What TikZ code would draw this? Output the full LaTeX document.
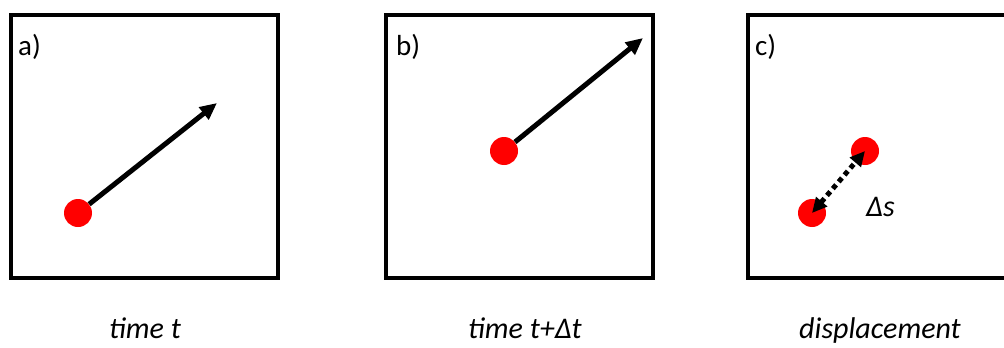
\documentclass[tikz,border=0pt]{standalone}
\usepackage{fontspec}
\setmainfont{Carlito}
\usetikzlibrary{arrows.meta, positioning}

\begin{document}
\begin{tikzpicture}[
    x=1pt, y=-1pt,
    panel/.style={rectangle, draw, line width=4pt, minimum width=267pt, minimum height=263pt, inner sep=0pt},
    dot/.style={circle, fill=red, minimum size=28pt, inner sep=0pt},
    tag/.style={font=\fontsize{29}{33}\selectfont, inner sep=0pt, anchor=base west},
    caption/.style={font=\fontsize{30}{34}\selectfont\itshape, inner sep=0pt},
    vec/.style={-{Triangle[length=17pt,width=15pt]}, line width=5pt}
]
    \useasboundingbox (0,0) rectangle (1004,348);

    % Panels
    \node[panel] (pa) at (144.5,146.5) {};
    \node[panel] (pb) at (519.5,146.5) {};
    \node[panel] (pc) at (881.5,146.5) {};

    \node[tag] (ta) at (18,55) {a)};
    \node[tag] (tb) at (396,55) {b)};
    \node[tag] (tc) at (755,55) {c)};

    % Velocity at time t
    \node[dot] (da) at (78,213) {};
    \coordinate (va) at (217,103);
    \draw[vec] (da) -- (va);

    % Velocity at time t+dt
    \node[dot] (db) at (504,151) {};
    \coordinate (vb) at (643,38);
    \draw[vec] (db) -- (vb);

    % Displacement
    \node[dot] (dc1) at (812,213) {};
    \node[dot] (dc2) at (865,151) {};
    \draw[line width=5pt, dash pattern=on 5pt off 4pt,
          {Triangle[length=15pt,width=14pt]}-{Triangle[length=15pt,width=14pt]}]
        (dc1.center) -- (dc2.center);
    \node[caption, anchor=base west, font=\fontsize{30}{34}\selectfont\itshape] (ds) at (866,216) {Δs};

    % Captions
    \node[caption, anchor=base] (ca) at (145,338) {time t};
    \node[caption, anchor=base] (cb) at (525,338) {time t+Δt};
    \node[caption, anchor=base] (cc) at (880,338) {displacement};
\end{tikzpicture}
\end{document}
